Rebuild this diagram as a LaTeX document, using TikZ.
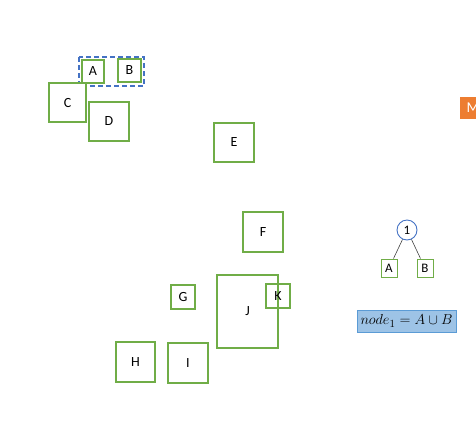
\documentclass[tikz,border=0pt]{standalone}
\usepackage{fontspec}
\setmainfont{Carlito}
\definecolor{gbox}{HTML}{70AD47}
\definecolor{bdash}{HTML}{4472C4}
\definecolor{orng}{HTML}{ED7D31}
\definecolor{lblue}{HTML}{9DC3E6}
\definecolor{mblue}{HTML}{5B9BD5}
\begin{document}
\begin{tikzpicture}[x=1pt,y=-1pt,
  gb/.style={draw=gbox,line width=1.1pt,fill=white,inner sep=0pt,font=\fontsize{14}{16}\selectfont},
  tb/.style={draw=gbox,line width=1pt,fill=white,inner sep=0pt,minimum width=16pt,minimum height=18pt,font=\fontsize{13}{15}\selectfont},
  conn/.style={draw=black!75,line width=0.6pt}]
\useasboundingbox (0,0) rectangle (476,424);
\clip (0,0) rectangle (476,424);
\draw[bdash,line width=1.4pt,dash pattern=on 5pt off 3pt] (79,57) rectangle (144,86);
\node[gb,minimum width=22pt,minimum height=23pt] (A) at (93,71.5) {A};
\node[gb,minimum width=23pt,minimum height=23pt] (B) at (129.5,70.5) {B};
\node[gb,minimum width=37pt,minimum height=39pt] (C) at (67.5,102.5) {C};
\node[gb,minimum width=40pt,minimum height=39pt] (D) at (109,121.5) {D};
\node[gb,minimum width=40pt,minimum height=39pt] (E) at (234,142.5) {E};
\node[gb,minimum width=40pt,minimum height=40pt] (F) at (263,232) {F};
\node[gb,minimum width=24pt,minimum height=24pt] (G) at (183,297) {G};
\node[gb,minimum width=61pt,minimum height=73pt,fill=none] (J) at (247.5,311.5) {J};
\node[gb,minimum width=24pt,minimum height=24pt,fill=none] (K) at (278,296) {K};
\node[gb,minimum width=39pt,minimum height=40pt] (H) at (135.5,362) {H};
\node[gb,minimum width=40pt,minimum height=40pt] (I) at (188,363) {I};
\node[draw=orng,fill=orng,text=white,inner sep=0pt,minimum width=26pt,minimum height=21pt,font=\fontsize{15}{17}\selectfont] (M) at (473,107.5) {M};
\node[circle,draw=bdash,line width=0.9pt,fill=white,minimum size=20pt,inner sep=0pt,font=\fontsize{13}{15}\selectfont] (n1) at (407,230) {1};
\node[tb] (tA) at (389,268) {A};
\node[tb] (tB) at (425,268) {B};
\draw[conn] (n1) -- (tA);
\draw[conn] (n1) -- (tB);
\node[draw=mblue,fill=lblue,line width=0.6pt,minimum width=99pt,minimum height=22pt,inner sep=0pt,font=\fontsize{15.5}{17}\selectfont] (f) at (406.5,321) {$node_1=A\cup B$};
\end{tikzpicture}
\end{document}
